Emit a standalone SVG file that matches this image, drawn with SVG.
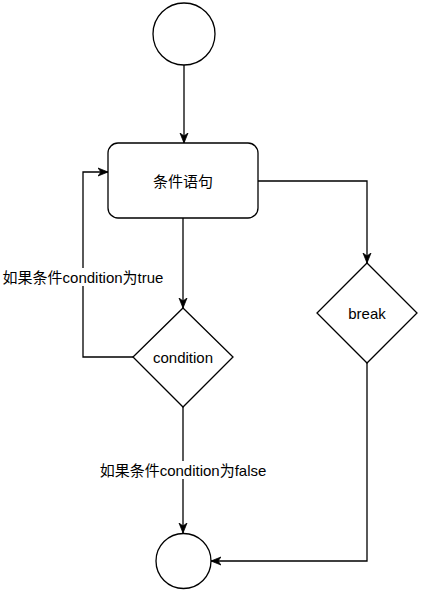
<svg xmlns="http://www.w3.org/2000/svg" width="422" height="603" viewBox="0 0 422 603">
<style>
.s{fill:#fff;stroke:#000;stroke-width:1.3}
.e{fill:none;stroke:#000;stroke-width:1.3}
.t{font-family:"Liberation Sans","Noto Sans CJK SC",sans-serif;font-size:15px;fill:#000;text-anchor:middle;dominant-baseline:central}
.lb{fill:#fff}
</style>
<defs>
<marker id="a" viewBox="0 0 10 10" refX="10" refY="5" markerWidth="10" markerHeight="10" markerUnits="userSpaceOnUse" orient="auto">
<path d="M0,1 L10,5 L0,9 L3,5 Z" fill="#000" stroke="#000" stroke-width="0.8"/>
</marker>
</defs>
<rect width="422" height="603" fill="#fff"/>
<g id="edges">
<path class="e" d="M184,65 L184,143" marker-end="url(#a)"/>
<path class="e" d="M183,218 L183,308" marker-end="url(#a)"/>
<path class="e" d="M133,357 L83,357 L83,172 L108,172" marker-end="url(#a)"/>
<path class="e" d="M258,181 L367,181 L367,263" marker-end="url(#a)"/>
<path class="e" d="M183,407 L183,533" marker-end="url(#a)"/>
<path class="e" d="M367,363 L367,561 L211,561" marker-end="url(#a)"/>
<g id="label-true">
<rect class="lb" x="3" y="268" width="160" height="18"/>
<text class="t" x="83" y="277">如果条件condition为true</text>
</g>
<g id="label-false">
<rect class="lb" x="100" y="461" width="166" height="18"/>
<text class="t" x="183" y="470">如果条件condition为false</text>
</g>
</g>
<g id="start"><circle class="s" cx="184" cy="34" r="31"/></g>
<g id="stmt"><rect class="s" x="108" y="143" width="150" height="75" rx="10"/><text class="t" x="183" y="181">条件语句</text></g>
<g id="cond"><path class="s" d="M183,308 L233,357 L183,407 L133,357 Z"/><text class="t" x="183" y="357">condition</text></g>
<g id="brk"><path class="s" d="M367,263 L417,313 L367,363 L317,313 Z"/><text class="t" x="367" y="313">break</text></g>
<g id="end"><circle class="s" cx="183.5" cy="561" r="27.5"/></g>
</svg>
